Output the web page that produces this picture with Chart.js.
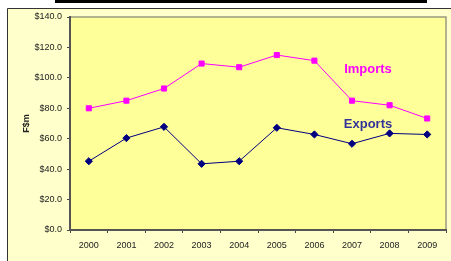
<!DOCTYPE html>
<html>
<head>
<meta charset="utf-8">
<script src="https://cdn.jsdelivr.net/npm/chart.js@4.4.1/dist/chart.umd.min.js"></script>
<style>
  html, body { margin:0; padding:0; background:#fff; }
  #wrap { width:451px; height:261px; position:relative; }
</style>
</head>
<body>
<div id="wrap"><canvas id="c" width="451" height="261"></canvas></div>
<script>
// data
const years = ['2000','2001','2002','2003','2004','2005','2006','2007','2008','2009'];
const imports = [80, 85, 93, 109.4, 107, 115, 111.3, 85, 82, 73.3];
const exports_ = [45.2, 60.4, 67.8, 43.5, 45.2, 67.2, 62.8, 56.7, 63.5, 62.8];
const yTicks = [0, 20, 40, 60, 80, 100, 120, 140];
const seriesNames = ['Imports', 'Exports'];

const FONT = "'Liberation Sans', Arial, sans-serif";

// background, outer frame, top rule, plot fill
const frame = {
  id: 'frame',
  beforeDraw(chart) {
    const { ctx, chartArea: a } = chart;
    ctx.save();
    ctx.fillStyle = '#fff';
    ctx.fillRect(0, 0, chart.width, chart.height);
    // outer panel
    ctx.fillStyle = '#FFFFCC';
    ctx.fillRect(7, 8, chart.width - 7, chart.height - 8);
    ctx.strokeStyle = '#333';
    ctx.lineWidth = 1;
    ctx.beginPath();
    ctx.moveTo(7.5, chart.height); ctx.lineTo(7.5, 8.5); ctx.lineTo(chart.width, 8.5);
    ctx.stroke();
    // thick rule at top (from the title box above)
    ctx.fillStyle = '#000';
    ctx.fillRect(55, 0, 372, 3);
    // plot area
    ctx.fillStyle = '#FFFF99';
    ctx.fillRect(a.left, a.top, a.right - a.left, a.bottom - a.top);
    ctx.strokeStyle = '#9a9a80';
    ctx.lineWidth = 1.5;
    ctx.beginPath();
    ctx.moveTo(a.left, a.top); ctx.lineTo(a.right, a.top); ctx.lineTo(a.right, a.bottom);
    ctx.stroke();
    ctx.restore();
  }
};

// series names written next to the lines
const seriesLabels = {
  id: 'seriesLabels',
  afterDatasetsDraw(chart) {
    const { ctx, scales: { x, y } } = chart;
    const at = [{ v: 105.4, c: '#FF00FF' }, { v: 69.2, c: '#333399' }];
    ctx.save();
    ctx.font = 'bold 13px ' + FONT;
    ctx.textAlign = 'center';
    ctx.textBaseline = 'middle';
    seriesNames.forEach((n, i) => {
      ctx.fillStyle = at[i].c;
      ctx.fillText(n, x.getPixelForValue(7) + 16, y.getPixelForValue(at[i].v));
    });
    ctx.restore();
  }
};

new Chart(document.getElementById('c'), {
  type: 'line',
  data: {
    labels: years,
    datasets: [
      { label: seriesNames[0], data: imports, borderColor: '#FF00FF', backgroundColor: '#FF00FF',
        borderWidth: 1, pointStyle: 'rect', pointRadius: 3.6, tension: 0 },
      { label: seriesNames[1], data: exports_, borderColor: '#000080', backgroundColor: '#000080',
        borderWidth: 1, pointStyle: 'rectRot', pointRadius: 3.6, tension: 0 }
    ]
  },
  options: {
    responsive: false,
    animation: false,
    events: [],
    layout: { padding: { left: 0, right: 2, top: 17, bottom: 0 } },
    plugins: { legend: { display: false }, tooltip: { enabled: false } },
    scales: {
      x: {
        offset: true,
        grid: { offset: true, drawOnChartArea: false, tickLength: 3, color: '#444', tickWidth: 1 },
        border: { color: '#555', width: 2 },
        ticks: { color: '#222', font: { family: FONT, size: 9 }, padding: 7, maxRotation: 0 },
        afterFit(s) { s.height = 31; }
      },
      y: {
        min: 0, max: 140,
        afterBuildTicks(s) { s.ticks = yTicks.map(v => ({ value: v })); },
        grid: { drawOnChartArea: false, tickLength: 3, color: '#444' },
        border: { color: '#555', width: 2 },
        ticks: { color: '#222', font: { family: FONT, size: 9 }, padding: 5,
          callback: v => '$' + Number(v).toFixed(1) },
        title: { display: true, text: 'F$m', color: '#222',
          font: { family: FONT, size: 9, weight: 'bold' }, padding: { top: 21, bottom: 0 } },
        afterFit(s) { s.width = 70; }
      }
    }
  },
  plugins: [frame, seriesLabels]
});
</script>
</body>
</html>
